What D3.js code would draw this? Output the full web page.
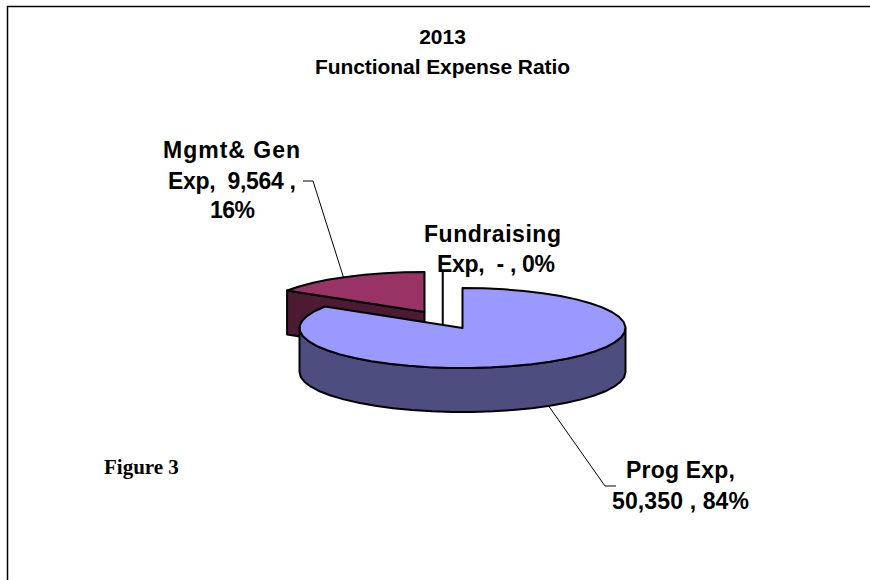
<!DOCTYPE html>
<html lang="en">

<head>
    <meta charset="UTF-8">
    <script src="https://cdnjs.cloudflare.com/ajax/libs/d3/7.8.5/d3.min.js"></script>
    <title>2013 Functional Expense Ratio</title>
    <style>
        html, body { margin: 0; padding: 0; background: #fff; }
        svg { display: block; }
        text { font-family: "Liberation Sans", Arial, sans-serif; font-weight: bold; font-size: 21px; fill: #000; text-anchor: middle; white-space: pre; }
        .label { font-size: 23px; }
        .fig { font-family: "Liberation Serif", "Times New Roman", serif; font-size: 21px; text-anchor: start; }
    </style>
</head>

<body>
    <svg width="870" height="580"></svg>
    <script>
        const categories = ["Prog Exp", "Fundraising Exp", "Mgmt& Gen Exp"]
        const expenses = [50350, 0, 9564]
        const titleLines = ["2013", "Functional Expense Ratio"]
        const labelLines = [
            ["Prog Exp,", "50,350 , 84%"],
            ["Fundraising", "Exp,  - , 0%"],
            ["Mgmt& Gen", "Exp,  9,564 ,", "16%"]
        ]

        const svg = d3.select("svg")
        const width = 870, height = 580

        // frame, only top and left show
        svg.append("path")
            .attr("d", `M7.5,${height} V6.5 H${width}`)
            .attr("fill", "none")
            .attr("stroke", "#000")
            .attr("stroke-width", 1.5)

        const rx = 163, ry = 40, depth = 44
        const cx = 462.5, cy = 328
        const explode = { x: -38, y: -16 } // Mgmt slice is pulled out

        const x = d3.scaleLinear().domain([-1, 1]).range([cx - rx, cx + rx])
        const y = d3.scaleLinear().domain([-1, 1]).range([cy - ry, cy + ry])

        const pie = d3.pie().sort(null).value(d => d)
        const slices = pie(expenses)

        // point on the squashed rim for a pie angle, clockwise from 12 o'clock
        const rim = (a, dx = 0, dy = 0) => [x(Math.sin(a)) + dx, y(-Math.cos(a)) + dy]
        const centre = (dx = 0, dy = 0) => [x(0) + dx, y(0) + dy]
        const line = d3.line()

        // coarse steps, the original rim is a bumpy polygon
        function rimPoints(a0, a1, dx, dy) {
            const n = Math.max(2, Math.ceil((a1 - a0) / 0.13))
            return d3.range(n + 1).map(i => rim(a0 + (a1 - a0) * i / n, dx, dy))
        }

        function drawSlice(s, dx, dy, topColor, sideColor, cutAngles, sideRange) {
            const g = svg.append("g").attr("stroke", "#000").attr("stroke-width", 2).attr("stroke-linejoin", "round")
            // cut faces go back to the centre and hang down by depth
            cutAngles.forEach(a => {
                const c = [centre(dx, dy), rim(a, dx, dy), rim(a, dx, dy + depth), centre(dx, dy + depth)]
                g.append("path").attr("d", line(c) + "Z").attr("fill", sideColor)
            })
            sideRange.forEach(([a0, a1]) => {
                const front = rimPoints(a0, a1, dx, dy)
                const back = rimPoints(a0, a1, dx, dy + depth).reverse()
                g.append("path").attr("d", line(front.concat(back)) + "Z").attr("fill", sideColor)
            })
            const top = [centre(dx, dy)].concat(rimPoints(s.startAngle, s.endAngle, dx, dy))
            g.append("path").attr("d", line(top) + "Z").attr("fill", topColor)
        }

        // exploded slice sits behind, main slice over it
        drawSlice(slices[2], explode.x, explode.y, "#993366", "#4d1a33", [slices[2].startAngle], [])
        drawSlice(slices[0], 0, 0, "#9999ff", "#4d4d80", [], [[Math.PI / 2, 3 * Math.PI / 2]])

        // leader lines
        const leaders = svg.append("g").attr("fill", "none").attr("stroke", "#000").attr("stroke-width", 1)
        const progPt = rim(2.585, 0, depth)
        const mgmtPt = rim(5.763, explode.x, explode.y)
        leaders.append("path").attr("d", line([progPt, [605, 486], [616, 486]]))
        leaders.append("path").attr("d", line([mgmtPt, [313, 181], [303, 181]]))
        leaders.append("path").attr("d", line([[442.75, 270], [442.75, 325]])).attr("stroke-width", 2)

        // text
        const titleWidths = [null, 255]
        svg.append("g").selectAll("text").data(titleLines).enter().append("text")
            .attr("x", 442.5)
            .attr("y", (d, i) => 44 + i * 29.5)
            .attr("textLength", (d, i) => titleWidths[i])
            .text(d => d)

        const labelX = [[680.5, 680.5], [492.5, 496], [231.5, 232, 232.5]]
        const labelY = [[478, 509], [242, 272], [158, 189, 218]]
        const labelWidths = [[109, 137], [137, 118], [137, 128, 45]]
        labelLines.forEach((lines, k) => {
            svg.append("g").selectAll("text").data(lines).enter().append("text")
                .attr("class", "label")
                .attr("x", (d, i) => labelX[k][i])
                .attr("y", (d, i) => labelY[k][i])
                .attr("textLength", (d, i) => labelWidths[k][i])
                .text(d => d)
        })

        svg.append("text").attr("class", "fig").attr("x", 104).attr("y", 474).text("Figure 3")
    </script>
</body>

</html>
